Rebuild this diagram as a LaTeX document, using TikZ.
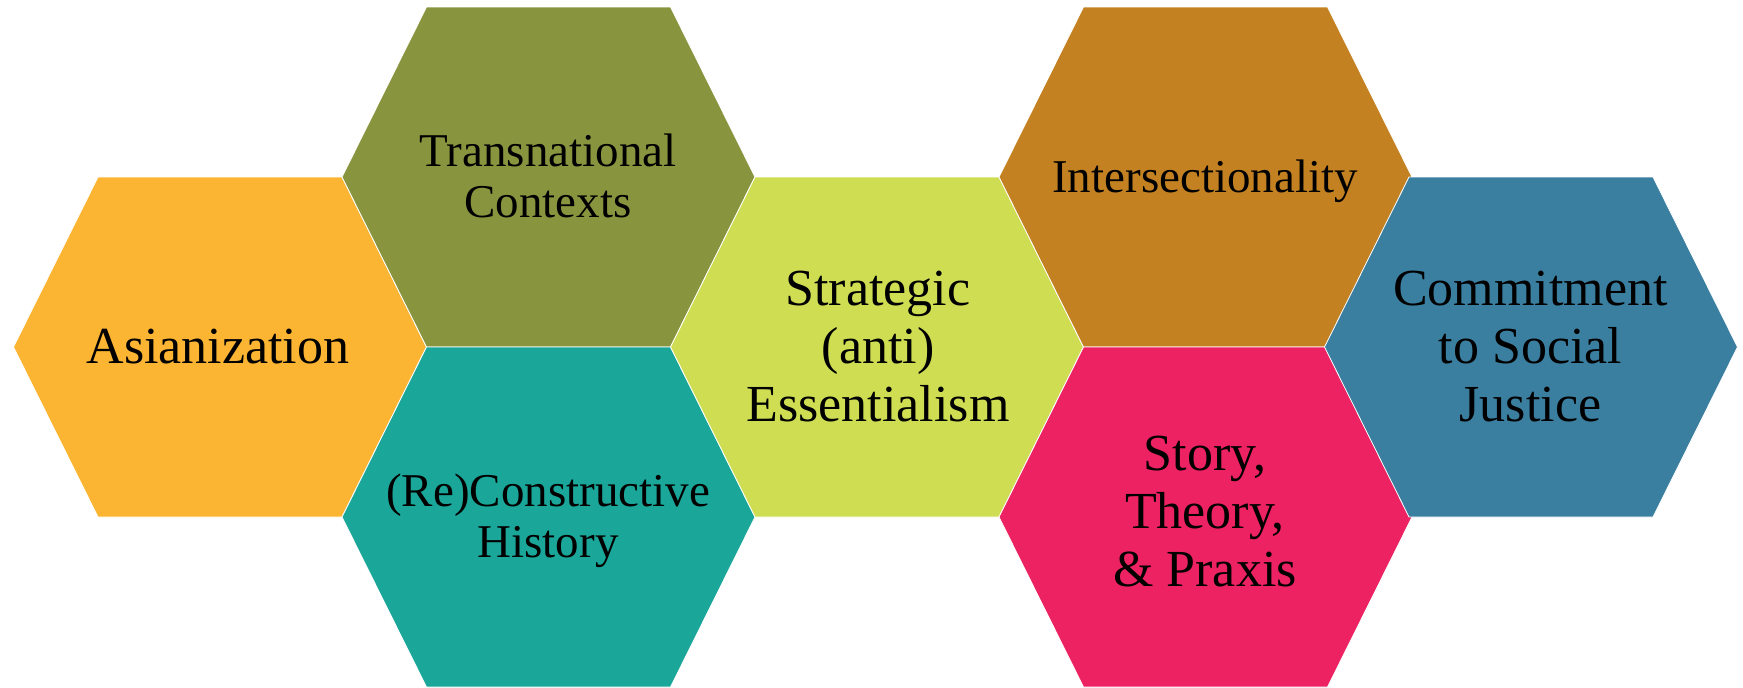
\documentclass[tikz,border=0pt]{standalone}
\usepackage{fontspec}
\setmainfont{Liberation Serif}

\definecolor{asiancol}{HTML}{FBB532}
\definecolor{transcol}{HTML}{89953E}
\definecolor{recoscol}{HTML}{1AA699}
\definecolor{stratcol}{HTML}{CFDD52}
\definecolor{intercol}{HTML}{C38122}
\definecolor{storycol}{HTML}{EC2262}
\definecolor{justcol}{HTML}{3B7FA0}

% a flattened hexagon centred at (#1,#2), filled with colour #3
\newcommand\hexcell[3]{%
  \path[cell,fill=#3] (#1-206.5,#2) -- ++(84.5,-170) -- ++(244,0)
    -- ++(84.5,170) -- ++(-84.5,170) -- ++(-244,0) -- cycle;}

\begin{document}
\begin{tikzpicture}[x=1pt,y=-1pt,
  cell/.style={draw=white,line width=0.8pt,line join=miter},
  biglbl/.style={inner sep=0pt,align=center,font=\fontsize{52}{58}\selectfont},
  smalllbl/.style={inner sep=0pt,align=center,font=\fontsize{47}{51}\selectfont}]
\useasboundingbox (0,0) rectangle (1743,688);

\hexcell{220}{347}{asiancol}
\hexcell{548.5}{177}{transcol}
\hexcell{548.5}{517}{recoscol}
\hexcell{877}{347}{stratcol}
\hexcell{1205.5}{177}{intercol}
\hexcell{1205.5}{517}{storycol}
\hexcell{1531}{347}{justcol}

\node[biglbl] (asian) at (218,352) {\strut Asianization};
\node[smalllbl] (trans) at (548,182) {\strut Transnational\\\strut Contexts};
\node[smalllbl] (recon) at (548,522) {\strut (Re)Constructive\\\strut History};
\node[biglbl] (strat) at (878,352) {\strut Strategic\\\strut (anti)\\\strut Essentialism};
\node[smalllbl] (inter) at (1205,182) {\strut Intersectionality};
\node[biglbl] (story) at (1205,516.5) {\strut Story,\\\strut Theory,\\\strut \& Praxis};
\node[biglbl] (just) at (1530.5,352) {\strut Commitment\\\strut to Social\\\strut Justice};
\end{tikzpicture}
\end{document}
